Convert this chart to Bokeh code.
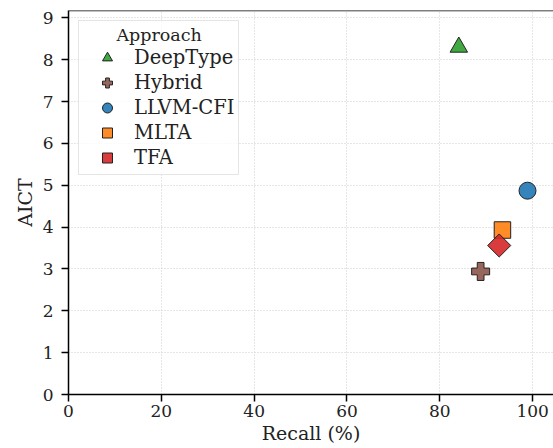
from bokeh.plotting import figure
from bokeh.models import Range1d, Span, FixedTicker, Legend, LegendItem
from bokeh.embed import file_html
from bokeh.resources import INLINE
import math

# Data
approaches = ["DeepType", "Hybrid", "LLVM-CFI", "MLTA", "TFA"]
recall = [84.1, 88.8, 98.9, 93.5, 92.8]
aict = [8.30, 2.94, 4.87, 3.93, 3.56]
colors = ["#2ca02c", "#8c564b", "#1f77b4", "#ff7f0e", "#d62728"]
markers = ["triangle", "plus", "circle", "square", "square"]
sizes = [17.5, 18, 17, 16.5, 16.3]
angles = [0, 0, 0, 0, math.pi / 4]
x_ticks = [0, 20, 40, 60, 80, 100]
y_ticks = [0, 1, 2, 3, 4, 5, 6, 7, 8, 9]

FONT = "DejaVu Serif"

p = figure(width=553, height=448, output_backend="svg", toolbar_location=None,
           x_range=Range1d(0, 104.5), y_range=Range1d(0, 9.175),
           min_border_left=68, min_border_right=0, min_border_top=10,
           min_border_bottom=54)
p.outline_line_color = None
p.background_fill_color = "white"

items = []
for name, x, y, c, m, s, a in zip(approaches, recall, aict, colors, markers, sizes, angles):
    r = p.scatter([x], [y], marker=m, size=s, angle=a, fill_color=c, fill_alpha=0.9,
                  line_color="#222222", line_width=1)
    items.append(LegendItem(label=name, renderers=[r]))

legend = Legend(items=items, location="top_left")
legend.title = "\u00a0" * 6 + "Approach"
legend.title_text_font = FONT
legend.title_text_font_size = "17.5px"
legend.title_text_font_style = "normal"
legend.title_text_color = "#222222"
legend.title_standoff = 0
legend.label_text_font = FONT
legend.label_text_font_size = "19.5px"
legend.label_text_color = "#222222"
legend.label_height = 25
legend.glyph_width = 48
legend.glyph_height = 25
legend.spacing = 0
legend.label_standoff = 3
legend.padding = 4
legend.margin = 10
legend.border_line_color = "#cccccc"
legend.border_line_width = 1
legend.background_fill_alpha = 0.8
p.add_layout(legend)

for ax in (p.xaxis[0], p.yaxis[0]):
    ax.axis_line_color = "black"
    ax.axis_line_width = 1.5
    ax.major_tick_line_color = "black"
    ax.major_tick_line_width = 1.5
    ax.major_tick_out = 7
    ax.major_tick_in = 0
    ax.minor_tick_line_color = None
    ax.major_label_text_font = FONT
    ax.major_label_text_font_size = "17px"
    ax.major_label_text_color = "#222222"
    ax.axis_label_text_font = FONT
    ax.axis_label_text_font_size = "19px"
    ax.axis_label_text_font_style = "normal"
    ax.axis_label_text_color = "#222222"

p.xaxis.ticker = FixedTicker(ticks=x_ticks)
p.yaxis.ticker = FixedTicker(ticks=y_ticks)
p.xaxis.axis_label = "Recall (%)"
p.yaxis.axis_label = "AICT"
p.xaxis.major_label_standoff = 3
p.xaxis.axis_label_standoff = 2
p.yaxis.major_label_standoff = 8
p.yaxis.axis_label_standoff = 4

p.xgrid.ticker = FixedTicker(ticks=x_ticks)
p.ygrid.ticker = FixedTicker(ticks=y_ticks)
for g in (p.xgrid[0], p.ygrid[0]):
    g.grid_line_color = "#cccccc"
    g.grid_line_dash = "1 2"
    g.grid_line_width = 1

top = Span(location=9.175, dimension="width", line_color="black", line_width=1.5)
p.add_layout(top)

open("out.html", "w").write(file_html(p, INLINE))
